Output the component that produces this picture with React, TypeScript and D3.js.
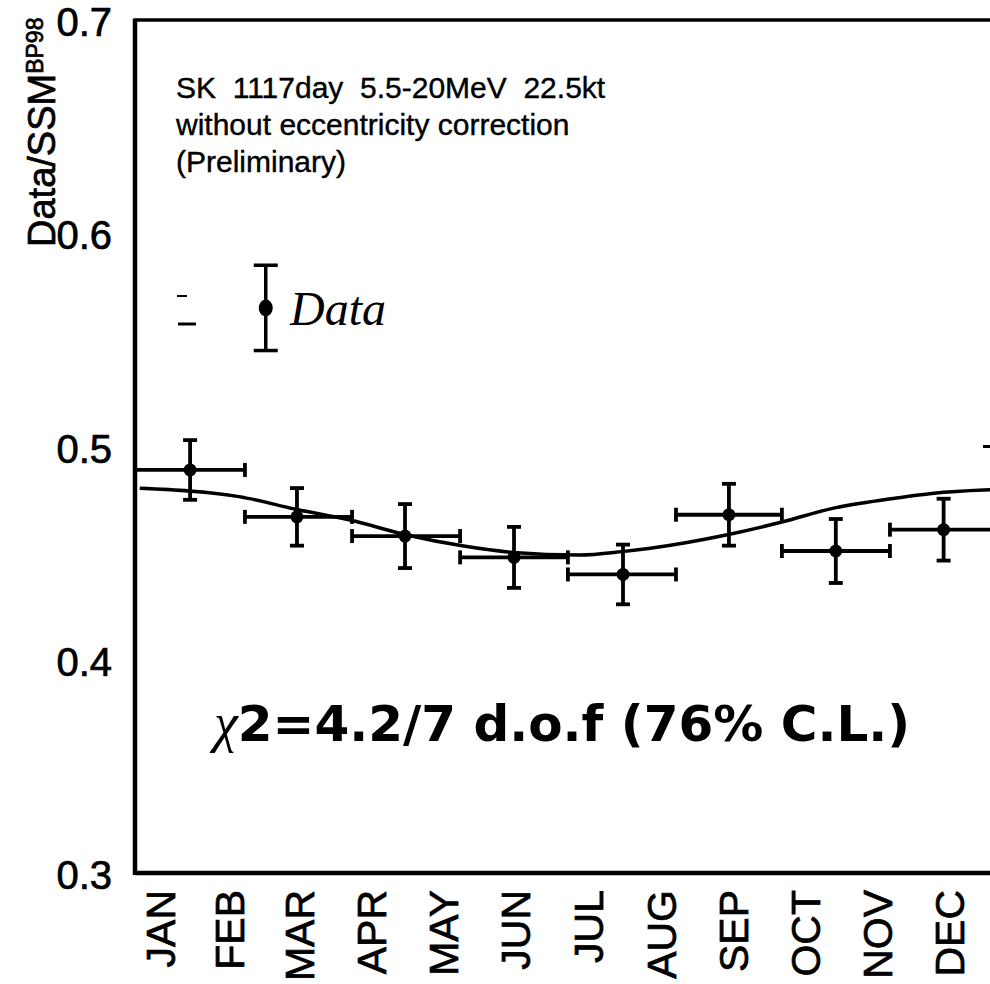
import React from "react";
import * as d3 from "d3";

// ---- data ----
const months = ["JAN", "FEB", "MAR", "APR", "MAY", "JUN", "JUL", "AUG", "SEP", "OCT", "NOV", "DEC"];
const monthStartDay = [0, 31, 59, 90, 120, 151, 181, 212, 243, 273, 304, 334];
const yTicks = [0.3, 0.4, 0.5, 0.6, 0.7];

// 8 bins over the year (day of year)
const binStart = [0, 46.5, 91.8, 137.5, 183.1, 228.8, 273.6, 319.3];
const binEnd = [46.5, 91.8, 137.5, 183.1, 228.8, 273.6, 319.3, 365];
const pointDay = [23.3, 68.5, 114.2, 160.3, 206.4, 251.2, 296.4, 342.0];
const pointValue = [0.489, 0.467, 0.458, 0.448, 0.440, 0.468, 0.451, 0.461];
const pointError = [0.014, 0.0135, 0.015, 0.0143, 0.014, 0.0145, 0.015, 0.0145];

// expected seasonal curve
const curveDay = [2, 44, 68, 91, 115, 139, 160, 188, 206, 218, 250, 274, 295, 319, 337, 359, 365];
const curveValue = [0.4804, 0.4765, 0.4706, 0.4655, 0.4585, 0.4533, 0.4503, 0.4491, 0.4507, 0.4523, 0.4585, 0.4647, 0.471, 0.4754, 0.478, 0.4796, 0.4798];

const legendValue = 0.565;
const legendError = 0.02;

const W = 990;
const H = 984;
const margin = { left: 135, top: 20, right: 998, bottom: 873 };

export default function App() {
  const x = d3.scaleLinear().domain([0, 365]).range([margin.left, margin.right]);
  const y = d3.scaleLinear().domain([0.3, 0.7]).range([margin.bottom, margin.top]);

  const line = d3
    .line<number>()
    .x((_, i) => x(curveDay[i]))
    .y((d) => y(d))
    .curve(d3.curveMonotoneX);

  const sans = "'Liberation Sans', Arial, Helvetica, sans-serif";
  const capW = 7;
  const hCap = 7;
  const ink = { stroke: "#000", strokeWidth: 0.7 } as const;

  const legendX = x(55.3);

  return (
    <svg
      width={W}
      height={H}
      viewBox={`0 0 ${W} ${H}`}
      style={{ position: "absolute", left: 0, top: 0, background: "#fff" }}
    >
      <rect x={0} y={0} width={W} height={H} fill="#fff" />

      {/* axes frame */}
      <line x1={margin.left} x2={margin.right} y1={margin.top} y2={margin.top} stroke="#000" strokeWidth={3.5} />
      <line x1={margin.left} x2={margin.right} y1={margin.bottom} y2={margin.bottom} stroke="#000" strokeWidth={4.5} />
      <line x1={margin.left} x2={margin.left} y1={margin.top - 1.5} y2={margin.bottom + 2} stroke="#000" strokeWidth={4.5} />
      <line x1={margin.right} x2={margin.right} y1={margin.top} y2={margin.bottom} stroke="#000" strokeWidth={4} />
      <line x1={margin.right - 15} x2={margin.right} y1={y(0.5)} y2={y(0.5)} stroke="#000" strokeWidth={3} />

      {/* y tick labels */}
      {yTicks.map((t) => (
        <text
          key={t}
          x={112}
          y={y(t)}
          dy={16}
          textAnchor="end"
          fontFamily={sans}
          fontSize={40}
          fill="#000"
          {...ink}
        >
          {d3.format(".1f")(t)}
        </text>
      ))}

      {/* y axis title */}
      <text
        transform={`translate(55, 247) rotate(-90)`}
        fontFamily={sans}
        fontSize={38}
        fill="#000"
        {...ink}
      >
        Data/SSM
        <tspan fontSize={23} dy={-12}>
          BP98
        </tspan>
      </text>

      {/* month labels */}
      {months.map((m, i) => {
        const s = monthStartDay[i];
        const e = i < 11 ? monthStartDay[i + 1] : 365;
        const cx = x((s + e) / 2) + 3;
        return (
          <text
            key={m}
            transform={`translate(${cx}, ${margin.bottom + 17}) rotate(-90)`}
            textAnchor="end"
            fontFamily={sans}
            fontSize={41}
            fill="#000"
            {...ink}
          >
            {m}
          </text>
        );
      })}

      {/* annotation text */}
      <g fontFamily={sans} fontSize={30} fill="#000" stroke="#000" strokeWidth={0.4}>
        <text x={176} y={98} style={{ whiteSpace: "pre" }}>
          {"SK  1117day  5.5-20MeV  22.5kt"}
        </text>
        <text x={176} y={135}>without eccentricity correction</text>
        <text x={176} y={172}>(Preliminary)</text>
      </g>

      {/* legend */}
      <line x1={177} x2={187} y1={296} y2={296} stroke="#000" strokeWidth={2} />
      <line x1={178} x2={196} y1={324} y2={324} stroke="#000" strokeWidth={3} />
      <line x1={legendX} x2={legendX} y1={y(legendValue + legendError)} y2={y(legendValue - legendError)} stroke="#000" strokeWidth={3.5} />
      <line x1={legendX - 12} x2={legendX + 12} y1={y(legendValue + legendError)} y2={y(legendValue + legendError)} stroke="#000" strokeWidth={3.5} />
      <line x1={legendX - 12} x2={legendX + 12} y1={y(legendValue - legendError)} y2={y(legendValue - legendError)} stroke="#000" strokeWidth={3.5} />
      <ellipse cx={legendX} cy={y(legendValue)} rx={7} ry={8.5} fill="#000" />
      <text
        x={290}
        y={y(legendValue) + 17}
        fontFamily="'Liberation Serif', 'Times New Roman', serif"
        fontStyle="italic"
        fontSize={48}
        fill="#000"
      >
        Data
      </text>

      {/* expected curve */}
      <path d={line(curveValue) || ""} fill="none" stroke="#000" strokeWidth={3.5} />

      {/* data points */}
      {pointValue.map((v, i) => {
        const px = x(pointDay[i]);
        const x0 = x(binStart[i]);
        const x1 = x(binEnd[i]);
        const yT = y(v + pointError[i]);
        const yB = y(v - pointError[i]);
        const py = y(v);
        return (
          <g key={i} stroke="#000" strokeWidth={3.8}>
            <line x1={x0} x2={x1} y1={py} y2={py} />
            <line x1={x0} x2={x0} y1={py - hCap} y2={py + hCap} />
            <line x1={x1} x2={x1} y1={py - hCap} y2={py + hCap} />
            <line x1={px} x2={px} y1={yT} y2={yB} />
            <line x1={px - capW} x2={px + capW} y1={yT} y2={yT} />
            <line x1={px - capW} x2={px + capW} y1={yB} y2={yB} />
            <circle cx={px} cy={py} r={6.5} fill="#000" stroke="none" />
          </g>
        );
      })}

      {/* chi2 annotation */}
      <text x={214} y={741} fill="#000">
        <tspan fontFamily="'Liberation Serif', 'Times New Roman', serif" fontStyle="italic" fontSize={54}>
          χ
        </tspan>
        <tspan fontFamily="'DejaVu Sans', Verdana, sans-serif" fontWeight="bold" fontSize={50}>
          2=4.2/7 d.o.f (76% C.L.)
        </tspan>
      </text>
    </svg>
  );
}
